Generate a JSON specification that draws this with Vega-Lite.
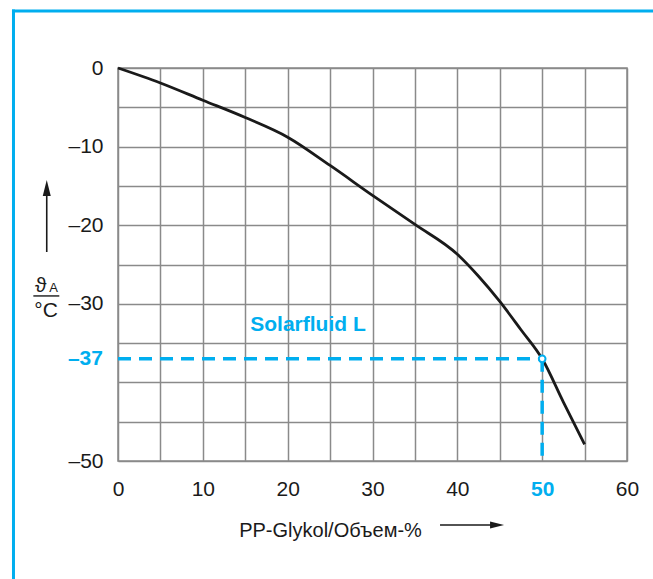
{
  "$schema": "https://vega.github.io/schema/vega-lite/v6.json",
  "width": 509,
  "height": 393,
  "autosize": {"type": "none"},
  "padding": {"left": 118, "top": 68, "right": 26, "bottom": 118},
  "background": "white",
  "config": {
    "view": {"stroke": "#8a8a8a", "strokeWidth": 1.5},
    "font": "Liberation Sans",
    "text": {"font": "Liberation Sans"}
  },
  "datasets": {
    "curve": [
      {"glycol": 0, "temp": 0},
      {"glycol": 5, "temp": -1.9},
      {"glycol": 10, "temp": -4.1},
      {"glycol": 15, "temp": -6.3},
      {"glycol": 20, "temp": -8.8},
      {"glycol": 25, "temp": -12.4},
      {"glycol": 30, "temp": -16.2},
      {"glycol": 35, "temp": -19.9},
      {"glycol": 40, "temp": -23.7},
      {"glycol": 42.5, "temp": -26.5},
      {"glycol": 45, "temp": -29.7},
      {"glycol": 47.5, "temp": -33.3},
      {"glycol": 50, "temp": -37},
      {"glycol": 52.5, "temp": -42.5},
      {"glycol": 55, "temp": -47.9}
    ],
    "ref": [
      {"glycol": 0, "glycol2": 50, "temp": -37, "temp2": -37},
      {"glycol": 50, "glycol2": 50, "temp": -37, "temp2": -50}
    ],
    "point": [{"glycol": 50, "temp": -37}]
  },
  "layer": [
    {
      "data": {"name": "curve"},
      "mark": {"type": "line", "color": "#1a1a1a", "strokeWidth": 2.8, "interpolate": "monotone"},
      "encoding": {
        "x": {
          "field": "glycol",
          "type": "quantitative",
          "scale": {"domain": [0, 60], "nice": false, "zero": false},
          "axis": {
            "title": null,
            "values": [0, 5, 10, 15, 20, 25, 30, 35, 40, 45, 50, 55, 60],
            "tickCount": 30,
            "grid": true,
            "gridColor": "#8a8a8a",
            "gridWidth": 1.5,
            "domain": false,
            "ticks": false,
            "tickSize": 0,
            "labelPadding": 17,
            "labelFontSize": 21,
            "labelFont": "Liberation Sans",
            "labelFlush": false,
            "labelOverlap": false,
            "labelExpr": "datum.value % 10 === 0 ? '' + datum.value : ''",
            "labelColor": {"condition": {"test": "datum.value === 50", "value": "#00AEEF"}, "value": "#1a1a1a"},
            "labelFontWeight": {"condition": {"test": "datum.value === 50", "value": "bold"}, "value": "normal"}
          }
        },
        "y": {
          "field": "temp",
          "type": "quantitative",
          "scale": {"domain": [-50, 0], "nice": false, "zero": false},
          "axis": {
            "title": null,
            "values": [-50, -45, -40, -35, -30, -25, -20, -15, -10, -5, 0],
            "tickCount": 30,
            "grid": true,
            "gridColor": "#8a8a8a",
            "gridWidth": 1.5,
            "domain": false,
            "ticks": false,
            "tickSize": 0,
            "labelPadding": 15,
            "labelFontSize": 21,
            "labelFont": "Liberation Sans",
            "labelColor": "#1a1a1a",
            "labelFlush": false,
            "labelOverlap": false,
            "labelExpr": "datum.value === 0 ? '0' : ((datum.value === -10 || datum.value === -20 || datum.value === -30 || datum.value === -50) ? '–' + abs(datum.value) : '')"
          }
        }
      }
    },
    {
      "data": {"values": [{}]},
      "mark": {"type": "rule", "color": "#00AEEF", "strokeWidth": 3, "strokeCap": "square"},
      "encoding": {
        "x": {"datum": -12.32, "type": "quantitative"},
        "y": {"datum": 7.25, "type": "quantitative"},
        "y2": {"datum": -80}
      }
    },
    {
      "data": {"values": [{}]},
      "mark": {"type": "rule", "color": "#00AEEF", "strokeWidth": 3, "strokeCap": "square"},
      "encoding": {
        "x": {"datum": -12.32, "type": "quantitative"},
        "x2": {"datum": 75},
        "y": {"datum": 7.25, "type": "quantitative"}
      }
    },
    {
      "data": {"name": "ref"},
      "mark": {"type": "rule", "color": "#00AEEF", "strokeWidth": 3.5, "strokeDash": [13, 8]},
      "encoding": {
        "x": {"field": "glycol", "type": "quantitative"},
        "x2": {"field": "glycol2"},
        "y": {"field": "temp", "type": "quantitative"},
        "y2": {"field": "temp2"}
      }
    },
    {
      "data": {"name": "point"},
      "mark": {"type": "point", "shape": "circle", "filled": true, "fill": "white", "stroke": "#00AEEF", "strokeWidth": 2, "size": 45, "opacity": 1},
      "encoding": {
        "x": {"field": "glycol", "type": "quantitative"},
        "y": {"field": "temp", "type": "quantitative"}
      }
    },
    {
      "data": {"name": "point"},
      "mark": {"type": "text", "font": "Liberation Sans", "fontSize": 21, "fontWeight": "bold", "color": "#00AEEF", "align": "right", "baseline": "middle", "text": "–37"},
      "encoding": {
        "x": {"datum": -1.77, "type": "quantitative"},
        "y": {"field": "temp", "type": "quantitative"}
      }
    },
    {
      "data": {"values": [{}]},
      "mark": {"type": "text", "text": "Solarfluid L", "font": "Liberation Sans", "fontSize": 21, "fontWeight": "bold", "color": "#00AEEF", "align": "center", "baseline": "alphabetic"},
      "encoding": {
        "x": {"datum": 22.4, "type": "quantitative"},
        "y": {"datum": -33.5, "type": "quantitative"}
      }
    },
    {
      "data": {"values": [{}]},
      "mark": {"type": "text", "text": "PP-Glykol/Объем-%", "font": "Liberation Sans", "fontSize": 20, "color": "#1a1a1a", "align": "center", "baseline": "alphabetic"},
      "encoding": {
        "x": {"datum": 25.05, "type": "quantitative"},
        "y": {"datum": -59.67, "type": "quantitative"}
      }
    },
    {
      "data": {"values": [{}]},
      "mark": {"type": "rule", "color": "#1a1a1a", "strokeWidth": 1.6},
      "encoding": {
        "x": {"datum": 37.96, "type": "quantitative"},
        "x2": {"datum": 44.1},
        "y": {"datum": -58.14, "type": "quantitative"}
      }
    },
    {
      "data": {"values": [{}]},
      "mark": {"type": "point", "shape": "M-1,-0.5L1,0L-1,0.5Z", "filled": true, "color": "#1a1a1a", "size": 196, "opacity": 1},
      "encoding": {
        "x": {"datum": 44.68, "type": "quantitative"},
        "y": {"datum": -58.14, "type": "quantitative"}
      }
    },
    {
      "data": {"values": [{}]},
      "mark": {"type": "rule", "color": "#1a1a1a", "strokeWidth": 1.6},
      "encoding": {
        "x": {"datum": -8.4, "type": "quantitative"},
        "y": {"datum": -23.41, "type": "quantitative"},
        "y2": {"datum": -15.52}
      }
    },
    {
      "data": {"values": [{}]},
      "mark": {"type": "point", "shape": "M-0.5,1L0,-1L0.5,1Z", "filled": true, "color": "#1a1a1a", "size": 256, "opacity": 1},
      "encoding": {
        "x": {"datum": -8.4, "type": "quantitative"},
        "y": {"datum": -15.27, "type": "quantitative"}
      }
    },
    {
      "data": {"values": [{}]},
      "mark": {"type": "text", "text": "ϑ", "font": "Liberation Sans", "fontSize": 21, "color": "#1a1a1a", "align": "center", "baseline": "alphabetic"},
      "encoding": {
        "x": {"datum": -9.11, "type": "quantitative"},
        "y": {"datum": -28.46, "type": "quantitative"}
      }
    },
    {
      "data": {"values": [{}]},
      "mark": {"type": "text", "text": "A", "font": "Liberation Sans", "fontSize": 13, "color": "#1a1a1a", "align": "center", "baseline": "alphabetic"},
      "encoding": {
        "x": {"datum": -7.58, "type": "quantitative"},
        "y": {"datum": -28.46, "type": "quantitative"}
      }
    },
    {
      "data": {"values": [{}]},
      "mark": {"type": "rule", "color": "#1a1a1a", "strokeWidth": 1.4},
      "encoding": {
        "x": {"datum": -9.98, "type": "quantitative"},
        "x2": {"datum": -6.92},
        "y": {"datum": -29.0, "type": "quantitative"}
      }
    },
    {
      "data": {"values": [{}]},
      "mark": {"type": "text", "text": "°C", "font": "Liberation Sans", "fontSize": 21, "color": "#1a1a1a", "align": "center", "baseline": "alphabetic"},
      "encoding": {
        "x": {"datum": -8.47, "type": "quantitative"},
        "y": {"datum": -31.64, "type": "quantitative"}
      }
    }
  ]
}
